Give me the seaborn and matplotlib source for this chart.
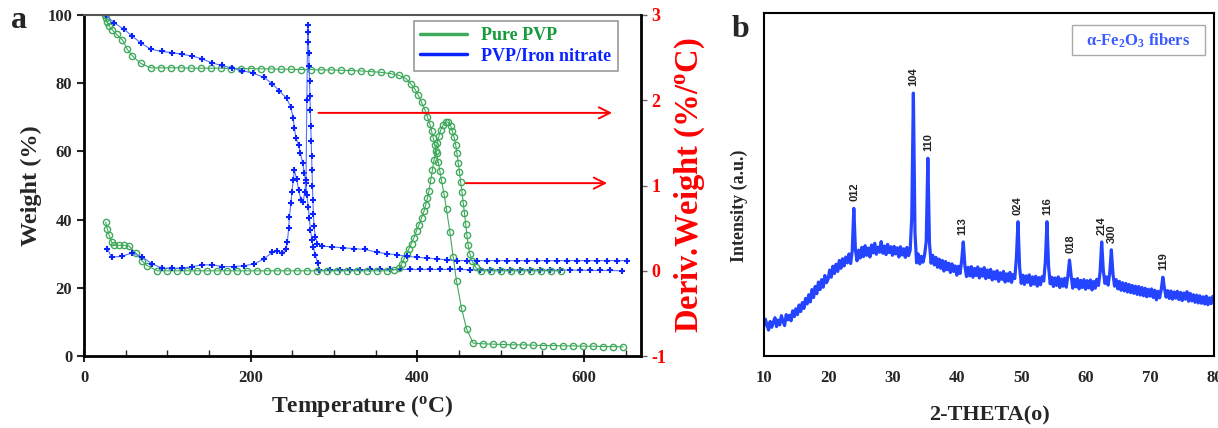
import numpy as np
import matplotlib.pyplot as plt
import seaborn as sns
from matplotlib.lines import Line2D
from matplotlib.patches import Rectangle
from matplotlib.ticker import MultipleLocator

# ---- panel a: TGA / DTG ----
# Pure PVP, weight (%)
pvp_T = [25, 26, 27.5, 30, 34, 39, 46, 52, 58, 68,
         80, 92, 104, 116, 128, 140, 152, 164, 176, 188,
         200, 212, 224, 236, 248, 260, 272, 284, 296, 308,
         320, 332, 344, 356, 368, 378, 386, 392, 397, 401,
         405, 409, 412, 415, 417, 419, 421, 423, 425, 427,
         429, 432, 435, 439, 443, 447, 453, 459, 467, 479,
         491, 503, 515, 527, 539, 551, 563, 575, 587, 599,
         611, 623, 635, 647]
pvp_w = [100, 99, 98, 96.8, 95.6, 94.3, 92.7, 89.9, 88, 85.8,
         84.5, 84.5, 84.5, 84.5, 84.4, 84.4, 84.4, 84.4, 84.3, 84.3,
         84.3, 84.2, 84.2, 84.1, 84.1, 84.0, 84.0, 83.9, 83.9, 83.8,
         83.7, 83.6, 83.4, 83.2, 82.8, 82.3, 81.4, 79.9, 78.3, 76.5,
         74.4, 72.2, 70.2, 68.0, 66.0, 64.0, 61.8, 59.5, 57.0, 54.3,
         51.5, 47.5, 43.0, 36.5, 29.0, 22.0, 14.0, 8.0, 3.8, 3.6,
         3.5, 3.4, 3.3, 3.3, 3.2, 3.1, 3.1, 3.0, 3.0, 2.9,
         2.9, 2.8, 2.8, 2.7]

# Pure PVP, derivative weight (%/C)
pvp_dT = [26, 28, 30, 33, 36, 42, 48, 54, 62, 70,
          76, 88, 100, 112, 124, 136, 148, 160, 172, 184,
          196, 208, 220, 232, 244, 256, 268, 280, 292, 304,
          316, 328, 340, 352, 364, 372, 378, 381, 384, 387,
          390, 393, 396, 399, 402, 405, 408, 410, 412, 414,
          416, 418, 420, 422, 424, 426, 428, 431, 434, 437,
          440, 442, 444, 446, 447.5, 449, 450.5, 452, 453.5, 455,
          456.5, 458, 459.5, 461, 463, 466, 470, 476, 488, 500,
          512, 524, 536, 548, 560, 572]
pvp_d = [0.57, 0.49, 0.42, 0.34, 0.30, 0.30, 0.30, 0.29, 0.21, 0.11,
         0.06, 0.0, 0.0, 0.0, 0.0, 0.0, 0.0, 0.0, 0.0, 0.0,
         0.0, 0.0, 0.0, 0.0, 0.0, 0.0, 0.0, 0.0, 0.0, 0.0,
         0.0, 0.0, 0.0, 0.0, 0.0, 0.01, 0.03, 0.08, 0.14, 0.20,
         0.26, 0.32, 0.39, 0.47, 0.54, 0.62, 0.70, 0.77, 0.85, 0.94,
         1.06, 1.18, 1.30, 1.40, 1.50, 1.58, 1.65, 1.71, 1.75, 1.74,
         1.70, 1.64, 1.57, 1.48, 1.38, 1.27, 1.16, 1.04, 0.93, 0.80,
         0.68, 0.55, 0.42, 0.30, 0.20, 0.11, 0.04, 0.0, 0.0, 0.0,
         0.0, 0.0, 0.0, 0.0, 0.0, 0.0]

# PVP/Iron nitrate, weight (%)
fe_T = [26, 36, 48, 58, 68, 80, 93, 105, 117, 129,
        141, 153, 165, 178, 190, 203, 216, 226, 234, 243,
        248, 251, 252.5, 254.4, 257.5, 259.6, 262.4, 264.4, 266.4, 267.5,
        269, 270.4, 271.6, 273.6, 275, 277.6, 280.4, 282.5, 295, 307,
        319, 331, 343, 355, 367, 379, 391, 403, 415, 427,
        439, 451, 463, 475, 487, 499, 511, 523, 535, 547,
        559, 571, 583, 595, 607, 619, 631, 645]
fe_w = [100, 97.7, 95.8, 93.8, 91.8, 90, 89.3, 89, 88.5, 88,
        87.2, 86, 85.2, 84.4, 83.7, 82.9, 81.7, 79.8, 77.8, 75.6,
        73.1, 69.7, 66.8, 63.8, 61.9, 59.5, 56.6, 53.6, 50.7, 47.2,
        43.8, 40.4, 37.0, 34.0, 32.1, 29.6, 27.2, 25.2, 25.2, 25.3,
        25.3, 25.3, 25.4, 25.4, 25.4, 25.4, 25.4, 25.4, 25.4, 25.4,
        25.4, 25.4, 25.3, 25.3, 25.3, 25.3, 25.3, 25.3, 25.3, 25.3,
        25.2, 25.2, 25.2, 25.2, 25.1, 25.1, 25.1, 25.0]

# PVP/Iron nitrate, derivative weight (%/C)
fe_dT = [28, 33, 45, 58, 70, 82, 94, 106, 118, 130,
         142, 154, 166, 180, 192, 204, 216, 226, 232, 238,
         242.4, 244, 245.6, 246.4, 248.3, 249.5, 251, 252.4, 255, 257.5,
         260.3, 263, 265, 266.4, 267.4, 268.4, 268.9, 269.3, 269.7, 270.1,
         270.6, 271.1, 271.6, 272.1, 272.6, 273.1, 273.6, 274.1, 274.6, 275.2,
         276, 277.5, 280, 286, 298, 311, 324, 337, 351, 363,
         375, 387, 399, 411, 423, 435, 447, 459, 471, 483,
         495, 507, 519, 531, 543, 555, 567, 579, 591, 603,
         615, 627, 639, 651]
fe_d = [0.26, 0.16, 0.17, 0.21, 0.16, 0.08, 0.03, 0.03, 0.03, 0.05,
        0.07, 0.07, 0.05, 0.05, 0.06, 0.08, 0.14, 0.22, 0.23, 0.21,
        0.25, 0.34, 0.50, 0.63, 0.79, 0.93, 1.06, 1.18, 1.08, 0.95,
        0.83, 0.81, 0.93, 1.06, 2.00, 2.88, 2.80, 2.68, 2.55, 2.40,
        2.22, 2.05, 1.88, 1.70, 1.52, 1.35, 1.18, 1.00, 0.83, 0.67,
        0.52, 0.40, 0.32, 0.29, 0.28, 0.27, 0.26, 0.25, 0.22, 0.20,
        0.19, 0.17, 0.16, 0.15, 0.14, 0.13, 0.12, 0.12, 0.12, 0.12,
        0.12, 0.12, 0.12, 0.12, 0.12, 0.12, 0.12, 0.12, 0.12, 0.12,
        0.12, 0.12, 0.12, 0.12]

# red arrows (weight level, start T, end T)
arrow_w = [71.3, 50.7]
arrow_from = [278, 454]
arrow_to = [637, 631]

# ---- panel b: XRD ----
two_theta = np.arange(10, 80.001, 0.25)  # scan grid, 0.25 deg step
intensity = [
    8.5, 10.8, 9.2, 7.6, 10.1, 8.4, 9.9, 11.2, 8.6, 10.5, 9.1, 11.8, 10.2, 8.9, 12.1, 10.6, 11.9, 10.3, 13.2, 11.5,
    13.8, 12.1, 14.9, 13.0, 15.6, 13.9, 16.8, 15.2, 17.9, 15.8, 19.4, 17.1, 20.3, 18.2, 21.6, 19.4, 22.3, 20.1, 23.5, 21.4,
    22.4, 25.1, 23.0, 26.2, 24.1, 26.8, 24.7, 27.9, 25.6, 28.4, 26.3, 28.9, 27.2, 29.8, 27.0, 30.6, 43.1, 31.0, 27.8, 30.9,
    28.6, 31.7, 29.0, 32.2, 29.4, 31.5, 28.9, 32.4, 30.1, 32.9, 29.7, 31.8, 30.3, 33.4, 30.0, 32.1, 29.6, 32.6, 30.2, 31.9,
    29.4, 32.0, 29.8, 31.6, 28.9, 31.9, 29.5, 31.3, 28.8, 31.7, 29.3, 30.8, 40.5, 76.7, 36.0, 27.2, 29.8, 26.9, 29.1, 27.4,
    29.6, 33.5, 57.7, 33.0, 27.1, 29.4, 26.6, 28.8, 25.9, 28.3, 25.6, 27.9, 24.8, 27.6, 25.2, 27.1, 24.4, 26.9, 24.7, 26.3,
    23.6, 26.2, 24.1, 27.8, 33.3, 26.4, 23.2, 25.9, 23.4, 26.1, 23.0, 25.6, 23.5, 26.0, 22.8, 25.4, 23.3, 25.8, 22.6, 25.1,
    22.9, 25.3, 22.2, 24.6, 22.5, 24.9, 21.8, 24.3, 22.4, 24.7, 21.6, 24.0, 21.9, 24.4, 21.5, 23.8, 22.6, 28.5, 39.2, 26.0,
    21.2, 23.6, 20.9, 23.4, 21.5, 23.7, 20.6, 23.1, 21.0, 23.3, 20.4, 22.9, 20.8, 23.2, 21.9, 27.5, 39.2, 26.2, 21.1, 23.0,
    20.3, 22.8, 20.6, 23.1, 20.0, 22.5, 20.4, 22.7, 20.1, 23.4, 28.0, 23.6, 19.8, 22.4, 20.2, 22.6, 19.6, 22.1, 20.0, 22.3,
    19.5, 22.0, 19.9, 22.2, 19.3, 21.8, 19.8, 22.4, 20.6, 24.5, 33.3, 25.0, 21.2, 23.1, 20.7, 24.2, 31.0, 24.0, 20.4, 22.3,
    19.6, 21.8, 19.2, 21.4, 19.0, 21.2, 18.7, 20.9, 18.5, 20.6, 18.3, 20.4, 18.0, 20.3, 17.8, 20.0, 17.6, 19.8, 17.3, 19.5,
    17.5, 19.6, 17.1, 19.2, 16.4, 18.9, 17.0, 19.4, 23.0, 19.8, 17.2, 19.1, 16.8, 19.0, 16.6, 18.7, 16.9, 18.9, 16.5, 18.6,
    16.2, 18.4, 16.6, 18.8, 16.0, 18.3, 16.1, 17.9, 15.7, 17.8, 15.5, 17.6, 15.4, 17.3, 15.2, 17.5, 15.0, 17.0, 15.3, 17.4,
    16.2]

hkl = ['012', '104', '110', '113', '024', '116', '018', '214', '300', '119']
hkl_pos = [24.1, 33.2, 35.6, 40.9, 49.4, 54.0, 57.6, 62.5, 64.0, 72.1]
hkl_top = [43.1, 76.7, 57.7, 33.3, 39.2, 39.2, 28.0, 33.3, 31.0, 23.0]

green = '#3faa5c'
green_txt = '#179a3c'
blue = '#0a22ff'
blue_line = '#5570ff'

sns.set_style('white')
plt.rcParams['font.family'] = ['Liberation Serif', 'DejaVu Serif']
plt.rcParams['font.weight'] = 'bold'
plt.rcParams['axes.labelweight'] = 'bold'
plt.rcParams['axes.unicode_minus'] = False
plt.rcParams['mathtext.fontset'] = 'custom'
plt.rcParams['mathtext.rm'] = 'Liberation Serif:bold'
plt.rcParams['mathtext.bf'] = 'Liberation Serif:bold'
plt.rcParams['mathtext.it'] = 'Liberation Serif:bold:italic'

fig = plt.figure(figsize=(12.18, 4.28), dpi=100)
ax = fig.add_axes([0.069, 0.168, 0.457, 0.797])
ax2 = ax.twinx()

circ = dict(marker='o', markersize=4.5, markerfacecolor='none',
            markeredgecolor=green, markeredgewidth=1.0)
plus = dict(marker='+', markersize=5, markeredgecolor=blue,
            markeredgewidth=1.5)

sns.lineplot(x=pvp_T, y=pvp_w, ax=ax, color=green, lw=0.8, sort=False,
             estimator=None, **circ)
sns.lineplot(x=fe_T, y=fe_w, ax=ax, color=blue_line, lw=0.8, sort=False,
             estimator=None, **plus)
sns.lineplot(x=pvp_dT, y=pvp_d, ax=ax2, color=green, lw=0.8, sort=False,
             estimator=None, **circ)
sns.lineplot(x=fe_dT, y=fe_d, ax=ax2, color=blue_line, lw=0.8, sort=False,
             estimator=None, **plus)

for w, t0, t1 in zip(arrow_w, arrow_from, arrow_to):
    ax.annotate('', xy=(t1, w), xytext=(t0, w),
                arrowprops=dict(arrowstyle='->', color='red', lw=1.4,
                                mutation_scale=20))

ax.set_xlim(0, 668)
ax.set_ylim(0, 100)
ax2.set_ylim(-1, 3)
ax.set_xticks([0, 200, 400, 600])
ax.xaxis.set_minor_locator(MultipleLocator(50))
ax.set_yticks([0, 20, 40, 60, 80, 100])
ax2.set_yticks([-1, 0, 1, 2, 3])

ax.tick_params(axis='y', direction='out', length=5, width=1.5, labelsize=12,
               left=True)
ax.tick_params(axis='x', which='major', direction='inout', length=8, width=1.5,
               labelsize=12, bottom=True, pad=6)
ax.tick_params(axis='x', which='minor', direction='in', length=4, width=1,
               bottom=True)
ax2.tick_params(axis='y', direction='out', length=4, width=1, labelsize=13,
                colors='red', right=True)
ax2.tick_params(axis='y', color='#666666')

for s in ['left', 'bottom']:
    ax.spines[s].set_color('black')
    ax.spines[s].set_linewidth(2)
ax.spines['top'].set_color('#555555')
ax.spines['top'].set_linewidth(1.5)
ax.spines['right'].set_visible(False)
for s in ['left', 'bottom', 'top']:
    ax2.spines[s].set_visible(False)
ax2.spines['right'].set_color('black')
ax2.spines['right'].set_linewidth(2)

ax.set_xlabel(r'Temperature ($^\mathbf{o}$C)', fontsize=17, labelpad=5)
ax.set_ylabel('Weight (%)', fontsize=17.5, labelpad=4)
ax2.set_ylabel(r'Deriv.Weight (%/$^\mathbf{o}$C)', fontsize=23.5, color='red',
               labelpad=5)

handles = [Line2D([], [], color=green, lw=2.5),
           Line2D([], [], color=blue, lw=2.5)]
leg = ax.legend(handles, ['Pure PVP', 'PVP/Iron nitrate'], loc='upper right',
                bbox_to_anchor=(0.975, 1.01), fancybox=False, framealpha=1,
                edgecolor='#999999', prop=dict(size=13, weight='bold'),
                handlelength=2.6, labelspacing=0.2, borderpad=0.35)
leg.get_frame().set_linewidth(1.2)
leg.get_texts()[0].set_color(green_txt)
leg.get_texts()[1].set_color(blue)

# ---- panel b ----
axb = fig.add_axes([0.627, 0.168, 0.370, 0.801])
sns.lineplot(x=two_theta, y=intensity, ax=axb, color='#2444ff', lw=2.3,
             sort=False, estimator=None)
for lab, x, y in zip(hkl, hkl_pos, hkl_top):
    axb.annotate(lab, xy=(x, y), xytext=(0, 5), textcoords='offset points',
                 rotation=90, ha='center', va='bottom', fontsize=8,
                 family='Liberation Sans', fontweight='bold', color='#222222')

axb.set_xlim(10, 80)
axb.set_ylim(0, 100)
axb.set_xticks(range(10, 81, 10))
axb.set_yticks([])
axb.tick_params(axis='x', length=0, labelsize=12, pad=10)
for s in axb.spines.values():
    s.set_color('black')
    s.set_linewidth(1.5)
axb.set_xlabel('2-THETA(o)', fontsize=16, labelpad=14)
axb.set_ylabel('Intensity (a.u.)', fontsize=13)
axb.yaxis.set_label_coords(-0.035, 0.437)

axb.add_patch(Rectangle((0.684, 0.878), 0.296, 0.087, transform=axb.transAxes,
                        facecolor='white', edgecolor='#aaaaaa', lw=1))
axb.text(0.832, 0.921, r'α-Fe$_\mathbf{2}$O$_\mathbf{3}$ fibers',
         transform=axb.transAxes, ha='center', va='center', fontsize=12,
         color='#3a5cff')

fig.text(0.0156, 0.953, 'a', fontsize=23, ha='center', va='center')
fig.text(0.6076, 0.93, 'b', fontsize=23, ha='center', va='center')

fig.savefig('out.png', dpi=100)
